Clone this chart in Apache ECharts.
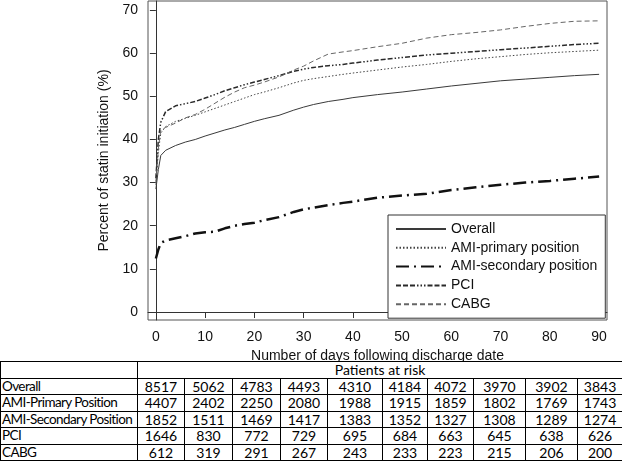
<!DOCTYPE html>
<html>
<head>
<meta charset="utf-8">
<script src="https://cdn.jsdelivr.net/npm/echarts@6/dist/echarts.min.js"></script>
<style>
  html, body { margin: 0; padding: 0; background: #fff; }
  #wrap { position: relative; width: 622px; height: 465px; overflow: hidden; }
  #chart { position: absolute; left: 0; top: 0; width: 622px; height: 465px; }
  #risk { position: absolute; left: 0; top: 361px; width: 622px; border-collapse: collapse; table-layout: fixed;
          font-family: Lato, "Open Sans", sans-serif; font-size: 14px; color: #000; background: #fff; }
  #risk td { border: 1.5px solid #000; height: 15.5px; padding: 0; line-height: 15px; text-align: center; white-space: nowrap; overflow: hidden; }
  #risk td.lab { text-align: left; padding-left: 1px; font-size: 13.5px; letter-spacing: -0.6px; }
</style>
</head>
<body>
<div id="wrap">
  <div id="chart"></div>
  <table id="risk"></table>
</div>
<script>
// ---- data ----
const days = [0, 0.5, 1, 2, 4, 6, 8, 10, 12, 14, 16, 18, 20, 22, 25, 28, 30, 32, 35, 38, 40, 45, 50, 55, 60, 65, 70, 75, 80, 85, 90];
const overall = [28.5, 33, 36.3, 37.5, 38.6, 39.4, 40.0, 40.8, 41.5, 42.2, 42.8, 43.5, 44.2, 44.8, 45.6, 46.8, 47.5, 48.1, 48.8, 49.3, 49.7, 50.4, 51.0, 51.7, 52.4, 53.0, 53.6, 54.0, 54.4, 54.8, 55.1];
const amiPrimary = [29.5, 37, 41.5, 43.0, 44.2, 44.9, 45.6, 46.4, 47.2, 48.0, 48.8, 49.6, 50.4, 51.0, 52.0, 53.1, 53.7, 54.1, 54.6, 55.1, 55.4, 56.1, 56.8, 57.4, 58.1, 58.7, 59.2, 59.7, 60.1, 60.4, 60.7];
const amiSecondary = [12.4, 14.5, 16.0, 16.6, 17.1, 17.6, 18.2, 18.5, 18.6, 19.4, 20.0, 20.4, 20.7, 21.3, 22.0, 23.2, 23.8, 24.2, 24.8, 25.3, 25.6, 26.5, 27.0, 27.4, 28.3, 28.9, 29.5, 30.0, 30.4, 30.9, 31.4];
const pci = [31, 40, 44, 46.5, 47.8, 48.3, 48.8, 49.6, 50.4, 51.3, 52.0, 52.7, 53.3, 53.9, 54.8, 55.8, 56.3, 56.7, 57.1, 57.4, 57.7, 58.4, 59.0, 59.6, 60.0, 60.4, 60.8, 61.2, 61.6, 62.0, 62.3];
const cabg = [30, 38, 42.2, 42.8, 43.8, 45.0, 45.8, 47.0, 48.4, 49.8, 51.0, 52.0, 52.6, 53.3, 54.5, 56.1, 57.0, 58.2, 59.8, 60.3, 60.6, 61.5, 62.3, 63.5, 64.3, 64.8, 65.4, 66.2, 66.9, 67.4, 67.5];
const seriesNames = ["Overall", "AMI-primary position", "AMI-secondary position", "PCI", "CABG"];
const xTicks = [0, 10, 20, 30, 40, 50, 60, 70, 80, 90];
const yTicks = [0, 10, 20, 30, 40, 50, 60, 70];
const xTitle = "Number of days following discharge date";
const yTitle = "Percent of statin initiation (%)";

const riskHeader = "Patients at risk";
const riskLabels = ["Overall", "AMI-Primary Position", "AMI-Secondary Position", "PCI", "CABG"];
const riskOverall = [8517, 5062, 4783, 4493, 4310, 4184, 4072, 3970, 3902, 3843];
const riskAmiPrimary = [4407, 2402, 2250, 2080, 1988, 1915, 1859, 1802, 1769, 1743];
const riskAmiSecondary = [1852, 1511, 1469, 1417, 1383, 1352, 1327, 1308, 1289, 1274];
const riskPci = [1646, 830, 772, 729, 695, 684, 663, 645, 638, 626];
const riskCabg = [612, 319, 291, 267, 243, 233, 223, 215, 206, 200];

// ---- table ----
const colWidths = [137, 47, 48, 48, 47, 55, 45, 46, 52, 52, 45];
(function buildTable() {
  const t = document.getElementById('risk');
  const cg = document.createElement('colgroup');
  colWidths.forEach(w => { const c = document.createElement('col'); c.style.width = w + 'px'; cg.appendChild(c); });
  t.appendChild(cg);
  const h = document.createElement('tr');
  const h0 = document.createElement('td'); h0.className = 'lab'; h.appendChild(h0);
  const h1 = document.createElement('td'); h1.colSpan = 10; h1.textContent = riskHeader; h.appendChild(h1);
  t.appendChild(h);
  const rows = [riskOverall, riskAmiPrimary, riskAmiSecondary, riskPci, riskCabg];
  rows.forEach((r, i) => {
    const tr = document.createElement('tr');
    const l = document.createElement('td'); l.className = 'lab'; l.textContent = riskLabels[i]; tr.appendChild(l);
    r.forEach(v => { const td = document.createElement('td'); td.textContent = v; tr.appendChild(td); });
    t.appendChild(tr);
  });
})();

// ---- chart ----
const pair = arr => days.map((d, i) => [d, arr[i]]);
const styles = [
  { color: '#3a3a3a', width: 1, type: 'solid' },
  { color: '#444', width: 1, type: [1.5, 2] },
  { color: '#111', width: 2.5, type: [13, 5, 2, 5] },
  { color: '#2a2a2a', width: 1.5, type: [5, 2, 5, 2, 5, 2, 1.5, 2, 1.5, 2, 1.5, 2] },
  { color: '#666', width: 1, type: [5, 3] }
];
const values = [overall, amiPrimary, amiSecondary, pci, cabg];
const font = '"Liberation Sans", Arial, sans-serif';

const chart = echarts.init(document.getElementById('chart'));
chart.setOption({
  animation: false,
  backgroundColor: '#fff',
  grid: { left: 148, right: 15, top: 1, bottom: 145, show: true, borderColor: '#555', borderWidth: 1, backgroundColor: '#fff' },
  legend: {
    orient: 'vertical', left: 388, top: 215,
    itemWidth: 50, itemHeight: 14, itemGap: 4.8,
    padding: [7, 8, 7, 7],
    borderColor: '#333', borderWidth: 1, backgroundColor: '#fff',
    itemStyle: { color: 'rgba(0,0,0,0)', borderColor: 'rgba(0,0,0,0)', borderWidth: 0 },
    textStyle: { fontFamily: font, fontSize: 14, color: '#111' },
    data: seriesNames
  },
  xAxis: {
    type: 'value', min: -1.6, max: 91.6,
    name: xTitle, nameLocation: 'middle', nameGap: 18,
    nameTextStyle: { fontFamily: font, fontSize: 14, color: '#111' },
    axisLine: { show: true, lineStyle: { color: '#333', width: 1 } },
    axisTick: { show: true, length: 6, lineStyle: { color: '#333' }, customValues: xTicks },
    axisLabel: { customValues: xTicks, margin: 10, fontFamily: font, fontSize: 14, color: '#111' },
    splitLine: { show: false }
  },
  yAxis: {
    type: 'value', min: -1.85, max: 72.1,
    name: yTitle, nameLocation: 'middle', nameGap: 31,
    nameTextStyle: { fontFamily: font, fontSize: 14, color: '#111' },
    axisLine: { show: true, lineStyle: { color: '#333', width: 1 } },
    axisTick: { show: true, length: 6, lineStyle: { color: '#333' }, customValues: yTicks },
    axisLabel: { customValues: yTicks, margin: 10, fontFamily: font, fontSize: 14, color: '#111' },
    splitLine: { show: false }
  },
  series: seriesNames.map((n, i) => ({
    name: n, type: 'line', symbol: 'none', smooth: false,
    data: pair(values[i]),
    itemStyle: { color: styles[i].color },
    lineStyle: { color: styles[i].color, width: styles[i].width, type: styles[i].type }
  }))
});
</script>
</body>
</html>
